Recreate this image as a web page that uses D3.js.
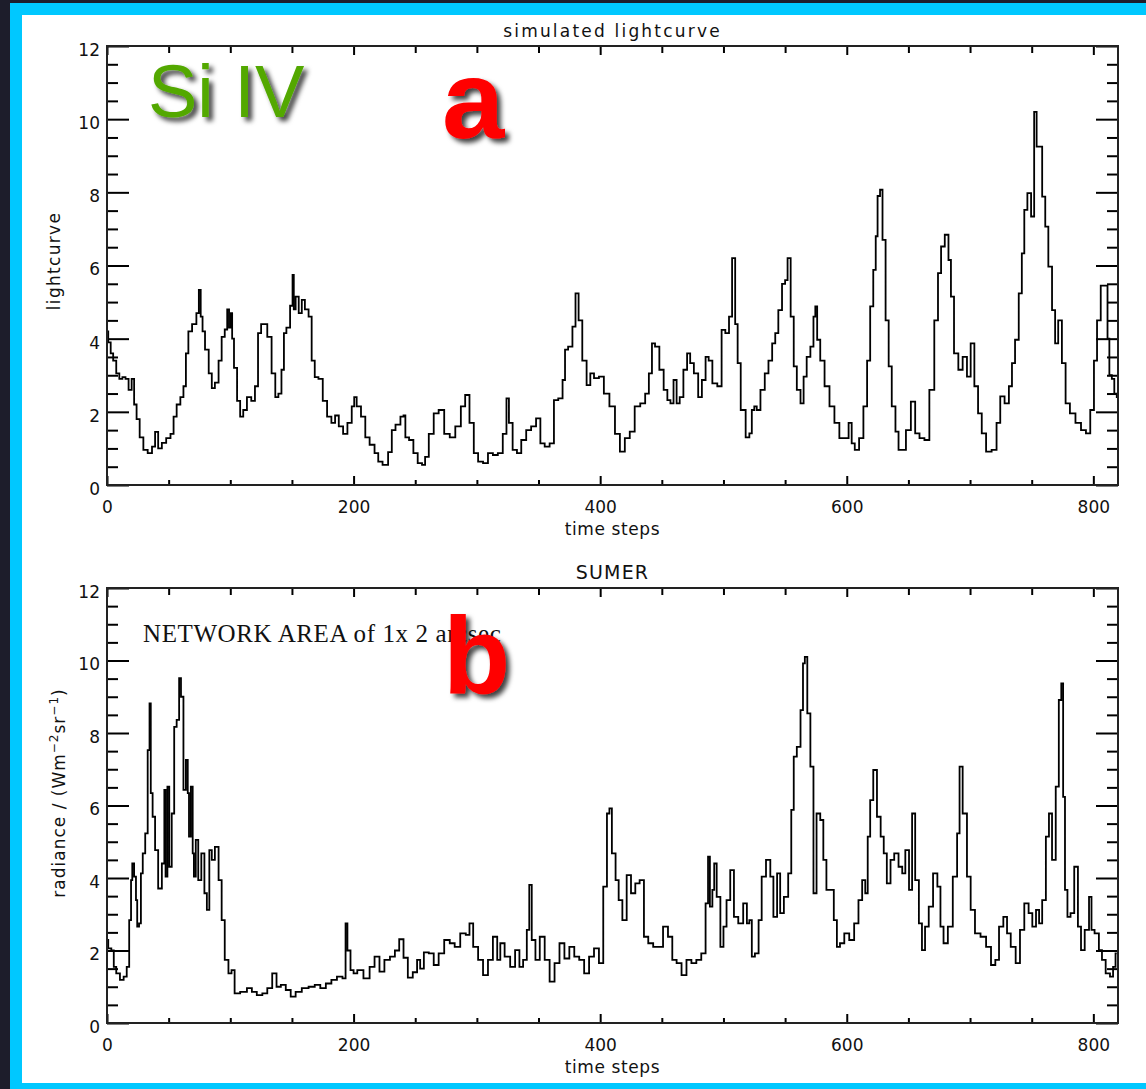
<!DOCTYPE html>
<html>
<head>
<meta charset="utf-8">
<script src="https://cdn.jsdelivr.net/npm/d3@7"></script>
<style>
  html, body { margin: 0; padding: 0; background: #1d1d2b; }
  svg { display: block; }
</style>
</head>
<body>
<script>
// ---------------- DATA ----------------
// Panel a: simulated lightcurve (Si IV)
const timeA = [0,2,4,6,9,11,14,16,19,21,23,25,28,31,35,38,40,43,46,50,53,55,58,61,63,65,67,71,74,75,77,78,81,84,86,89,92,94,97,98,100,101,102,104,107,109,112,115,119,121,124,126,128,132,135,138,140,143,144,147,150,151,152,154,157,159,162,165,167,170,173,177,180,184,186,190,193,197,200,201,204,208,211,215,219,221,226,230,232,236,240,241,243,247,250,254,257,259,263,267,271,276,280,285,289,292,296,299,303,307,311,315,319,323,325,327,331,334,338,342,346,350,353,357,361,364,368,371,372,376,379,381,384,387,391,393,397,401,405,410,414,418,422,426,430,435,438,441,443,446,450,453,456,458,461,463,466,469,472,474,478,481,484,487,489,493,497,500,503,506,508,511,512,516,520,522,524,526,528,532,535,538,541,543,546,549,551,553,556,558,561,564,566,569,572,574,575,577,580,584,588,592,596,600,603,605,608,612,615,618,620,623,624,626,628,630,633,635,638,641,643,646,650,654,657,661,665,669,673,675,678,681,684,685,689,692,696,699,702,705,708,711,715,720,723,726,730,733,735,738,741,743,745,748,751,753,755,757,760,762,765,768,770,773,776,779,783,788,792,796,799,802,804,808,811,812,814,816,818,820];
const valuesA = [4.2,3.9,3.6,3.4,3.05,2.9,2.95,2.9,2.6,2.9,2.2,1.8,1.3,0.96,0.87,1.05,1.45,1.0,1.15,1.28,1.4,1.87,2.2,2.4,2.7,3.6,4.2,4.4,4.7,5.33,4.6,4.2,3.7,3.05,2.65,2.8,3.4,4.05,4.25,4.8,4.3,4.7,4.0,3.2,2.3,1.87,2.05,2.4,2.3,2.7,4.15,4.4,4.4,4.05,3.05,2.4,2.5,3.15,4.15,4.3,4.9,5.74,4.8,5.15,4.7,5.06,4.8,4.6,3.4,2.95,2.9,2.3,1.87,1.7,1.9,1.6,1.4,1.7,2.15,2.4,2.15,1.87,1.3,1.1,0.87,0.64,0.55,0.9,1.5,1.65,1.87,1.9,1.3,1.23,0.87,0.6,0.55,0.77,1.4,1.96,2.05,1.4,1.3,1.6,2.15,2.46,1.7,0.87,0.64,0.6,0.87,0.82,0.87,1.4,2.37,1.7,0.96,0.87,1.23,1.5,1.6,1.82,1.14,1.05,1.14,2.32,2.37,2.87,3.7,3.78,4.33,5.24,4.5,3.4,2.73,3.05,2.92,2.96,2.5,2.15,1.4,0.91,1.28,1.46,2.15,2.23,2.5,3.05,3.87,3.78,3.15,2.6,2.32,2.23,2.87,2.23,2.4,3.15,3.6,3.33,3.05,2.4,2.87,3.5,3.4,2.78,2.7,4.24,4.15,4.6,6.2,4.4,3.33,2.05,1.3,1.41,2.05,2.15,2.05,2.6,3.05,3.4,3.87,4.15,4.78,5.5,5.6,6.2,4.6,3.24,2.6,2.23,2.96,3.5,3.78,4.6,4.88,3.97,3.4,2.7,2.15,1.7,1.28,1.28,1.7,1.14,0.96,1.28,2.15,3.4,4.88,5.88,6.8,7.9,8.07,6.7,4.5,3.24,2.15,1.46,0.96,0.96,1.5,2.28,1.41,1.28,1.23,2.6,4.5,5.79,6.52,6.84,6.15,5.15,3.6,3.15,3.5,2.96,3.87,2.7,1.96,1.41,0.91,0.96,1.7,2.42,2.23,2.7,3.33,3.97,5.24,6.33,7.52,7.98,7.34,10.2,9.25,9.25,7.88,7.06,5.97,4.78,3.87,4.5,3.33,2.23,1.96,1.7,1.5,1.41,2.05,3.4,4.5,5.45,5.45,4.0,3.0,2.9,2.5,2.4];

// Panel b: SUMER network radiance
const timeB = [0,2,5,6,9,12,15,17,19,20,21,23,24,25,27,28,30,32,34,35,36,38,40,43,46,47,48,50,51,54,55,58,59,61,63,65,66,67,69,70,71,73,75,78,80,82,84,86,89,92,94,97,100,102,105,111,116,119,124,128,132,136,139,143,147,151,155,161,166,171,175,180,184,189,193,194,196,199,201,205,211,215,219,223,227,232,235,239,242,246,250,253,255,259,263,267,271,276,280,284,289,293,295,299,303,307,311,315,318,320,325,329,333,336,339,342,343,346,349,353,357,361,365,369,373,377,381,385,389,393,397,401,404,407,408,411,414,416,420,423,427,430,434,437,441,445,449,453,457,460,464,468,472,476,480,484,487,488,490,492,493,496,499,501,504,507,510,514,518,520,522,524,527,530,532,537,539,542,545,547,551,554,556,558,561,564,565,567,569,572,574,577,580,582,585,588,591,593,596,600,604,608,611,614,616,618,620,623,626,629,631,634,637,640,644,646,649,652,654,657,660,662,665,668,672,675,677,680,684,688,691,692,696,699,702,706,711,715,719,722,725,729,731,735,739,742,746,749,752,755,757,760,763,765,768,771,773,775,776,778,780,783,786,789,791,795,798,799,803,806,808,812,815,817,819];
const valuesB = [2.29,2.06,2.0,1.55,1.37,1.19,1.28,1.55,2.84,3.94,4.4,4.04,3.39,2.66,2.75,4.13,4.68,5.23,7.53,8.82,6.34,5.69,4.77,3.71,4.4,6.43,4.04,6.52,4.31,5.78,8.17,8.36,9.51,9.0,6.43,7.26,6.34,5.14,6.52,4.68,4.04,5.05,3.94,4.68,3.58,3.12,4.77,4.5,4.86,3.94,2.84,1.74,1.37,1.46,0.82,0.86,0.96,0.86,0.77,0.82,0.96,1.37,1.0,1.05,0.91,0.73,0.86,0.96,1.0,1.05,0.96,1.09,1.19,1.28,1.23,2.75,2.0,1.46,1.37,1.46,1.23,1.55,1.83,1.42,1.74,1.83,2.0,2.31,1.8,1.25,1.4,1.74,1.5,1.95,1.92,1.6,1.92,2.29,2.2,2.1,2.47,2.43,2.75,2.1,1.74,1.32,1.74,2.38,1.74,2.2,1.83,1.55,2.01,1.55,1.74,2.57,3.81,2.29,1.74,2.38,1.74,1.14,1.65,2.2,1.78,2.1,1.83,1.74,1.37,1.83,2.06,1.65,3.76,5.78,5.92,4.68,3.94,3.39,2.84,4.08,3.58,3.85,3.94,2.38,2.2,2.1,2.1,2.66,2.38,1.74,1.65,1.32,1.74,1.65,1.74,1.92,3.3,4.59,3.21,3.67,4.4,3.48,2.1,2.66,3.39,4.22,2.93,2.75,3.3,2.75,2.84,1.83,1.92,2.84,4.04,4.5,4.04,2.93,4.13,3.03,3.48,4.13,5.88,7.35,7.62,8.63,9.92,10.1,8.54,7.07,3.58,5.78,5.6,4.5,3.67,3.67,2.84,2.1,2.2,2.47,2.29,2.75,3.39,3.94,3.58,5.14,6.15,6.98,5.69,5.14,4.68,3.85,4.5,4.68,4.31,4.13,4.77,3.67,5.78,3.94,2.75,2.01,2.66,3.21,4.13,3.76,2.66,2.2,2.66,4.04,5.23,7.07,5.78,4.04,3.12,2.47,2.38,2.1,1.6,1.74,2.66,2.93,2.47,2.1,1.65,2.57,3.3,3.03,2.66,3.12,2.75,3.39,5.14,5.78,4.5,6.52,8.91,9.37,6.24,3.67,2.93,3.03,4.31,2.66,2.01,2.57,3.48,2.57,2.47,2.01,1.74,1.37,1.28,1.55,1.92];

const xMajorTicks = [0, 200, 400, 600, 800];
const yMajorTicks = [0, 2, 4, 6, 8, 10, 12];

// ---------------- DRAWING ----------------
const W = 1146, H = 1089;
const svg = d3.select("body").append("svg").attr("width", W).attr("height", H);

const defs = svg.append("defs");
const f = defs.append("filter").attr("id", "shadow").attr("x", "-20%").attr("y", "-20%").attr("width", "150%").attr("height", "150%");
f.append("feDropShadow").attr("dx", 4).attr("dy", 4).attr("stdDeviation", 2.5)
  .attr("flood-color", "#000").attr("flood-opacity", 0.75);

// frame
svg.append("rect").attr("x", 0).attr("y", 0).attr("width", W).attr("height", H).attr("fill", "#1d1d2b");
svg.append("rect").attr("x", 10).attr("y", 3).attr("width", W - 10).attr("height", H - 3).attr("fill", "#00c8ff");
svg.append("rect").attr("x", 22).attr("y", 15).attr("width", W - 22).attr("height", 1083 - 15).attr("fill", "#ffffff");

const tickFont = "'DejaVu Sans', sans-serif";

function panel(cfg) {
  const { left, right, top, bottom, times, values } = cfg;
  const x = d3.scaleLinear().domain([0, 820]).range([left, right]);
  const y = d3.scaleLinear().domain([0, 12]).range([bottom, top]);
  const g = svg.append("g");
  const ylen = 22, ylenMinor = 11, xlen = 9, xlenMinor = 5;
  const xMinor = d3.range(0, 821, 50).filter(d => d % 200 !== 0);
  const yMinor = d3.range(0, 12.01, 0.5).filter(d => d % 2 !== 0);

  function styleAxis(sel) {
    sel.select(".domain").remove();
    sel.selectAll(".tick line").attr("stroke", "#000").attr("stroke-width", 2);
    sel.selectAll(".tick text").attr("fill", "#111").style("font-family", tickFont).style("font-size", "17px");
  }
  // bottom
  g.append("g").attr("transform", `translate(0,${bottom})`)
    .call(d3.axisBottom(x).tickValues(xMajorTicks).tickSizeInner(-xlen).tickSizeOuter(0).tickPadding(16).tickFormat(d3.format("d")))
    .call(styleAxis);
  g.append("g").attr("transform", `translate(0,${bottom})`)
    .call(d3.axisBottom(x).tickValues(xMinor).tickSizeInner(-xlenMinor).tickSizeOuter(0).tickFormat(""))
    .call(styleAxis);
  // top
  g.append("g").attr("transform", `translate(0,${top})`)
    .call(d3.axisTop(x).tickValues(xMajorTicks).tickSizeInner(-xlen).tickSizeOuter(0).tickFormat(""))
    .call(styleAxis);
  g.append("g").attr("transform", `translate(0,${top})`)
    .call(d3.axisTop(x).tickValues(xMinor).tickSizeInner(-7).tickSizeOuter(0).tickFormat(""))
    .call(styleAxis);
  // left
  g.append("g").attr("transform", `translate(${left},0)`)
    .call(d3.axisLeft(y).tickValues(yMajorTicks).tickSizeInner(-ylen).tickSizeOuter(0).tickPadding(7).tickFormat(d3.format("d")))
    .call(styleAxis)
    .call(s => s.selectAll(".tick text").attr("dy", "0.55em"));
  g.append("g").attr("transform", `translate(${left},0)`)
    .call(d3.axisLeft(y).tickValues(yMinor).tickSizeInner(-ylenMinor).tickSizeOuter(0).tickFormat(""))
    .call(styleAxis);
  // right
  g.append("g").attr("transform", `translate(${right},0)`)
    .call(d3.axisRight(y).tickValues(yMajorTicks).tickSizeInner(-ylen).tickSizeOuter(0).tickFormat(""))
    .call(styleAxis);
  g.append("g").attr("transform", `translate(${right},0)`)
    .call(d3.axisRight(y).tickValues(yMinor).tickSizeInner(-ylenMinor).tickSizeOuter(0).tickFormat(""))
    .call(styleAxis);

  // data line
  const pts = times.map((t, i) => [t, values[i]]);
  g.append("path").datum(pts)
    .attr("fill", "none").attr("stroke", "#000").attr("stroke-width", 1.8)
    .attr("stroke-linejoin", "miter")
    .attr("d", d3.line().x(d => x(d[0])).y(d => y(d[1])).curve(d3.curveStep));

  // box
  g.append("rect").attr("x", left).attr("y", top).attr("width", right - left).attr("height", bottom - top)
    .attr("fill", "none").attr("stroke", "#222").attr("stroke-width", 2);

  // titles
  g.append("text").attr("x", (left + right) / 2).attr("y", top - 9)
    .attr("text-anchor", "middle").style("font-family", tickFont)
    .style("font-size", cfg.titleSize + "px").style("letter-spacing", cfg.titleSpacing + "px")
    .attr("fill", "#111").text(cfg.title);
  g.append("text").attr("x", (left + right) / 2).attr("y", bottom + 50)
    .attr("text-anchor", "middle").style("font-family", tickFont)
    .style("font-size", "17px").style("letter-spacing", "0.6px")
    .attr("fill", "#111").text("time steps");
  return { x, y, g };
}

const pa = panel({ left: 107, right: 1118, top: 46, bottom: 485, times: timeA, values: valuesA,
  title: "simulated lightcurve", titleSize: 17, titleSpacing: 2.2 });
const pb = panel({ left: 107, right: 1118, top: 588, bottom: 1023, times: timeB, values: valuesB,
  title: "SUMER", titleSize: 19, titleSpacing: 1.2 });

// y titles
svg.append("text").attr("transform", "translate(60,261) rotate(-90)")
  .attr("text-anchor", "middle").style("font-family", tickFont).style("font-size", "17px")
  .style("letter-spacing", "1.3px").attr("fill", "#111").text("lightcurve");

const yt = svg.append("text").attr("transform", "translate(65,793) rotate(-90)")
  .attr("text-anchor", "middle").style("font-family", tickFont).style("font-size", "17px")
  .style("letter-spacing", "1px").attr("fill", "#111");
yt.append("tspan").text("radiance  /  (Wm");
yt.append("tspan").attr("dy", -7).style("font-size", "12px").text("\u22122");
yt.append("tspan").attr("dy", 7).text("sr");
yt.append("tspan").attr("dy", -7).style("font-size", "12px").text("\u22121");
yt.append("tspan").attr("dy", 7).text(")");

// annotation in panel b (partly covered by the "b" label, as in the original)
svg.append("text").attr("x", 143).attr("y", 642)
  .style("font-family", "'Liberation Serif', 'Times New Roman', serif").style("font-size", "25px")
  .style("letter-spacing", "0.6px")
  .attr("fill", "#111").text("NETWORK AREA of 1x 2 arcsec");

// big labels
svg.append("text").attr("x", 148).attr("y", 117)
  .style("font-family", "'Liberation Sans', Arial, sans-serif").style("font-size", "74px")
  .attr("fill", "#52a800").attr("filter", "url(#shadow)").text("Si IV");
svg.append("text").attr("x", 442).attr("y", 138)
  .style("font-family", "'Liberation Sans', Arial, sans-serif").style("font-size", "112px").style("font-weight", "bold")
  .attr("fill", "#ff0000").attr("filter", "url(#shadow)").text("a");
svg.append("text").attr("x", 443).attr("y", 693)
  .style("font-family", "'Liberation Sans', Arial, sans-serif").style("font-size", "110px").style("font-weight", "bold")
  .attr("fill", "#ff0000").attr("filter", "url(#shadow)").text("b");
</script>
</body>
</html>
